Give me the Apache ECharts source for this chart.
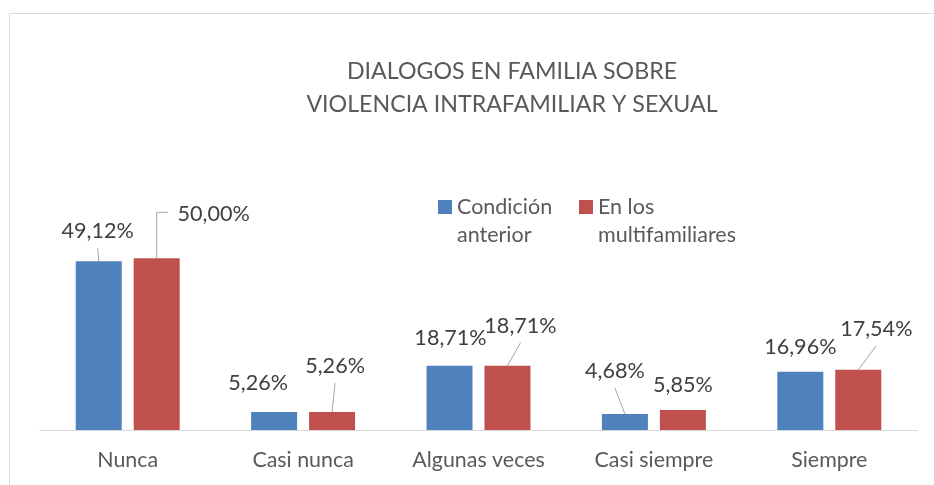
<!DOCTYPE html>
<html>
<head>
<meta charset="utf-8">
<script src="https://cdn.jsdelivr.net/npm/echarts@6/dist/echarts.min.js"></script>
<style>
  html, body { margin: 0; padding: 0; background: #ffffff; }
  #chart { width: 934px; height: 485px; }
</style>
</head>
<body>
<div id="chart"></div>
<script>
// ---- data ----
const categories = ['Nunca', 'Casi nunca', 'Algunas veces', 'Casi siempre', 'Siempre'];
const seriesNames = ['Condición anterior', 'En los multifamiliares'];
const condicionAnterior = [49.12, 5.26, 18.71, 4.68, 16.96];
const enLosMultifamiliares = [50.00, 5.26, 18.71, 5.85, 17.54];
const chartTitle = 'DIALOGOS EN FAMILIA SOBRE\nVIOLENCIA INTRAFAMILIAR Y SEXUAL';

// ---- label placement (style, offsets of label centre from bar top centre) ----
const labelOffsets = [
  [[-1, -30], [-16, -29], [1, -28], [-10, -43], [0, -25]],
  [[57, -44], [3, -46], [13, -40], [0, -25], [18, -41]]
];
// 0: no leader line, 1: straight, 2: elbow
const leaderType = [
  [1, 0, 0, 1, 0],
  [2, 1, 1, 0, 1]
];
const colors = ['#4F81BD', '#C0504D'];
const FONT = 'Lato';
const BAR_WIDTH = 46;
const BAR_GAP = 0.26;
const LABEL_HALF_WIDTH = 35;

function fmt(v) { return v.toFixed(2).replace('.', ',') + '%'; }

const valuesBySeries = [condicionAnterior, enLosMultifamiliares];

// leader-line items built from the same values
const leaderItems = [];
valuesBySeries.forEach((vals, s) => vals.forEach((v, i) => {
  if (leaderType[s][i] !== 0) leaderItems.push([i, v, s]);
}));

const chart = echarts.init(document.getElementById('chart'), null, { renderer: 'canvas' });

const legendWrap = {
  'Condición anterior': 'Condición\nanterior',
  'En los multifamiliares': 'En los\nmultifamiliares'
};

function makeLegend(name, left) {
  return {
    data: [name],
    left: left,
    top: 193,
    padding: 0,
    itemWidth: 14,
    itemHeight: 42,
    icon: 'path://M0,0h14v14h-14zM0,41.95h0.05v0.05h-0.05z',
    formatter: n => legendWrap[n],
    textStyle: {
      fontFamily: FONT, fontSize: 21.5, color: '#595959', lineHeight: 28
    }
  };
}

const barSeries = [0, 1].map(s => ({
  name: seriesNames[s],
  type: 'bar',
  data: valuesBySeries[s],
  barWidth: BAR_WIDTH,
  barGap: (BAR_GAP * 100) + '%',
  itemStyle: { color: colors[s] },
  z: 2,
  label: {
    show: true,
    position: 'top',
    formatter: p => fmt(p.value),
    fontFamily: FONT, fontSize: 21.6, color: '#404040'
  },
  labelLayout: function (p) {
    const o = labelOffsets[p.seriesIndex][p.dataIndex];
    const cx = p.rect.x + p.rect.width / 2;
    const top = p.rect.y;
    return { x: cx + o[0], y: top + o[1], align: 'center', verticalAlign: 'middle' };
  }
}));

const leaderSeries = {
  type: 'custom',
  silent: true,
  z: 1,
  data: leaderItems,
  renderItem: function (params, api) {
    const cat = api.value(0), v = api.value(1), s = api.value(2);
    const p = api.coord([cat, v]);
    const half = BAR_WIDTH * (1 + BAR_GAP) / 2;
    const cx = p[0] + (s === 0 ? -half : half);
    const top = p[1];
    const o = labelOffsets[s][cat];
    const lx = cx + o[0], ly = top + o[1];
    let pts;
    if (leaderType[s][cat] === 2) {
      pts = [[cx, top], [cx, ly - 2], [lx - LABEL_HALF_WIDTH - 11, ly - 2]];
    } else {
      pts = [[cx, top], [lx, ly + 17]];
    }
    return {
      type: 'polyline',
      shape: { points: pts },
      style: { stroke: '#a6a6a6', lineWidth: 1, fill: null }
    };
  }
};

const option = {
  backgroundColor: '#ffffff',
  animation: false,
  title: {
    text: chartTitle,
    left: 512,
    textAlign: 'center',
    top: 55,
    padding: 0,
    textStyle: { fontFamily: FONT, fontSize: 23.2, fontWeight: 'normal', color: '#595959', lineHeight: 33 }
  },
  legend: [makeLegend(seriesNames[0], 438), makeLegend(seriesNames[1], 579)],
  grid: { left: 40, right: 17, bottom: 55, top: 224, containLabel: false },
  xAxis: {
    type: 'category',
    data: categories,
    axisLine: { lineStyle: { color: '#d9d9d9', width: 1 } },
    axisTick: { show: false },
    axisLabel: { fontFamily: FONT, fontSize: 21.4, color: '#595959', margin: 20 }
  },
  yAxis: {
    type: 'value', min: 0, max: 60, show: false,
    splitLine: { show: false }
  },
  graphic: [{
    type: 'rect',
    shape: { x: 9.5, y: 13.5, width: 940, height: 490 },
    style: { fill: 'none', stroke: '#d9d9d9', lineWidth: 1 },
    silent: true, z: -10
  }],
  series: barSeries.concat([leaderSeries])
};

chart.setOption(option);
</script>
</body>
</html>
